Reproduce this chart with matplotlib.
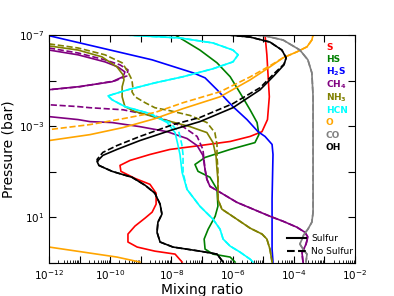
import numpy as np
import matplotlib
matplotlib.use("Agg")
import matplotlib.pyplot as plt
from matplotlib.lines import Line2D
from matplotlib.ticker import FixedLocator, FuncFormatter, NullFormatter, NullLocator

# all values are log10(mixing ratio) / log10(pressure in bar)
# S (sulfur run only)
s_x = [-4.94, -4.88, -4.80, -4.86, -5.04, -5.43, -6.08, -7.07, -8.05, -8.70, -9.35, -9.68,
       -9.65, -9.19, -8.70, -8.50, -8.50, -8.63, -8.86, -9.19, -9.42, -9.42, -9.12, -8.54,
       -7.88, -7.65]
s_p = [-7.0, -6.13, -4.29, -3.29, -2.76, -2.55, -2.33, -2.15, -1.98, -1.76, -1.50, -1.28,
       -1.02, -0.71, -0.45, -0.06, 0.42, 0.77, 1.03, 1.38, 1.73, 2.08, 2.30, 2.48, 2.61, 2.96]

# HS
hs_x = [-7.88, -7.07, -6.51, -6.08, -5.76, -5.43, -5.20, -5.14, -5.27, -6.08, -6.90, -7.23,
        -7.13, -6.74, -6.51, -6.48, -6.57, -6.80, -6.93, -6.90, -6.64, -6.08, -5.92]
hs_p = [-7.0, -6.34, -5.78, -5.17, -4.47, -3.72, -3.16, -2.63, -2.28, -1.98, -1.63, -1.32,
        -1.02, -0.76, -0.23, 0.51, 0.95, 1.52, 1.95, 2.39, 2.61, 2.74, 2.96]

# H2S
h2s_x = [-12.1, -8.63, -7.29, -6.90, -6.51, -5.99, -5.53, -5.17, -4.94, -4.71, -4.68,
         -4.71, -4.71, -4.68]
h2s_p = [-7.0, -5.91, -5.34, -5.12, -4.60, -3.86, -3.29, -2.76, -2.55, -2.20, -1.76,
         0.2, 2.39, 2.96]

# CH4
ch4_x = [-12.0, -11.05, -10.17, -9.75, -9.52, -9.58, -9.94, -11.05, -12.0, -13.0, -13.0,
         -12.0, -11.05, -10.66, -9.94, -9.03, -8.14, -7.49, -7.16, -6.97, -6.90, -6.84,
         -6.74, -6.41, -5.86, -5.10, -4.78, -4.35, -3.90, -3.64, -3.54, -3.60, -3.73, -3.70]
ch4_p = [-6.34, -6.13, -5.82, -5.60, -5.38, -5.17, -4.95, -4.73, -4.60, -4.4, -3.6,
         -3.42, -3.29, -3.20, -3.16, -2.98, -2.76, -2.46, -2.15, -1.72, -1.10, -0.67,
         -0.36, -0.10, 0.34, 0.77, 0.95, 1.17, 1.43, 1.65, 1.86, 2.17, 2.56, 2.96]
ch4_ns_x = [-12.0, -11.05, -10.17, -9.68, -9.42, -9.45, -9.84, -10.99, -12.0, -13.0, -13.0,
            -12.0, -11.05, -10.66, -9.58, -8.47, -7.62, -7.16, -6.97, -6.90, -6.84, -6.74,
            -6.41, -5.86, -5.10, -4.78, -4.35, -3.90, -3.64, -3.54, -3.60, -3.73, -3.70]
ch4_ns_p = [-6.43, -6.21, -5.91, -5.69, -5.47, -5.21, -4.99, -4.73, -4.60, -4.4, -4.1,
            -3.94, -3.86, -3.81, -3.72, -3.42, -2.98, -2.55, -1.98, -1.10, -0.67, -0.36,
            -0.10, 0.34, 0.77, 0.95, 1.17, 1.43, 1.65, 1.86, 2.17, 2.56, 2.96]

# NH3
nh3_x = [-12.0, -11.05, -10.27, -9.78, -9.58, -9.55, -9.61, -9.61, -9.52, -9.19, -8.93,
         -8.27, -7.39, -6.84, -6.64, -6.54, -6.51, -6.48, -6.48, -6.35, -5.86, -5.43,
         -5.04, -4.88, -4.78, -4.71]
nh3_p = [-6.52, -6.34, -6.04, -5.60, -5.25, -5.03, -4.73, -4.29, -3.86, -3.64, -3.55,
         -3.29, -2.98, -2.72, -2.28, -1.67, -1.10, -0.67, 0.21, 0.64, 1.08, 1.47,
         1.73, 1.95, 2.39, 2.96]
nh3_ns_x = [-12.0, -11.05, -10.17, -9.61, -9.42, -9.29, -9.26, -9.29, -9.19, -8.86, -8.54,
            -8.05, -7.39, -6.84, -6.58, -6.51, -6.51, -6.48, -6.48, -6.48, -6.35, -5.86,
            -5.43, -5.04, -4.88, -4.78, -4.71]
nh3_ns_p = [-6.61, -6.43, -6.13, -5.78, -5.38, -5.03, -4.69, -4.51, -4.29, -4.03, -3.81,
            -3.68, -3.47, -3.16, -2.72, -2.20, -1.67, -1.10, -0.67, 0.21, 0.64, 1.08,
            1.47, 1.73, 1.95, 2.39, 2.96]

# HCN
hcn_x = [-9.52, -7.72, -6.64, -5.99, -5.82, -5.99, -6.64, -7.62, -8.54, -9.42, -10.07,
         -9.94, -9.52, -8.70, -8.14, -7.88, -7.79, -7.72, -7.65, -7.49, -7.07, -6.64,
         -6.41, -6.31, -6.08, -5.76, -5.43, -5.33]
hcn_p = [-7.0, -6.87, -6.65, -6.34, -6.13, -5.82, -5.52, -5.17, -4.90, -4.60, -4.33,
         -4.16, -3.86, -3.55, -3.16, -2.72, -2.20, -1.76, -0.97, -0.23, 0.51, 1.08,
         1.52, 1.95, 2.26, 2.52, 2.83, 2.96]
hcn_ns_x = [-9.52, -7.72, -6.64, -5.99, -5.82, -5.99, -6.64, -7.62, -8.54, -9.42, -10.07,
            -9.94, -9.52, -8.70, -8.05, -7.75, -7.66, -7.62, -7.62, -7.49, -7.07, -6.64,
            -6.41, -6.31, -6.08, -5.76, -5.43, -5.33]

# O
o_x = [-14.0, -12.0, -10.66, -9.58, -8.54, -7.62, -6.41, -5.43, -4.78, -4.35, -3.90,
       -3.57, -3.41, -3.37]
o_p = [-2.25, -2.37, -2.63, -2.94, -3.33, -3.77, -4.29, -5.03, -5.60, -6.0, -6.26,
       -6.48, -6.78, -7.0]
o_ns_x = [-14.0, -12.0, -10.66, -9.58, -8.54, -7.62, -6.41, -5.43, -4.78, -4.35, -3.90,
          -3.57, -3.41, -3.37]
o_ns_p = [-2.7, -2.85, -3.07, -3.33, -3.60, -4.03, -4.51, -5.16, -5.65, -6.0, -6.26,
          -6.48, -6.78, -7.0]
o_deep_x = [-14.0, -12.0, -10.89, -9.78, -9.03]
o_deep_p = [2.1, 2.30, 2.52, 2.74, 2.96]

# CO
co_x = [-5.27, -4.94, -4.35, -3.80, -3.54, -3.41, -3.37, -3.37, -3.37, -3.41, -3.54,
        -3.67, -3.80, -3.70, -3.57, -3.60]
co_p = [-7.0, -6.96, -6.78, -6.34, -5.91, -5.34, -4.29, -1.98, 0.77, 1.21, 1.52,
        1.75, 2.17, 2.39, 2.61, 2.96]

# OH
oh_x = [-6.15, -5.43, -4.78, -4.39, -4.25, -4.32, -4.65, -5.10, -5.99, -7.07, -7.95,
        -9.03, -9.78, -10.24, -10.43, -10.37, -9.94, -9.29, -8.86, -8.54, -8.37, -8.31,
        -8.44, -8.47, -8.37, -7.95, -7.07, -6.51, -6.31]
oh_p = [-7.0, -6.91, -6.69, -6.34, -6.0, -5.69, -5.21, -4.60, -3.81, -3.20, -2.85,
        -2.37, -1.98, -1.72, -1.45, -1.28, -1.02, -0.76, -0.41, -0.06, 0.42, 0.86,
        1.21, 1.65, 2.08, 2.30, 2.48, 2.61, 2.96]
oh_ns_p = [-7.0, -6.91, -6.69, -6.34, -6.0, -5.72, -5.30, -4.69, -3.99, -3.38, -3.07,
           -2.55, -2.15, -1.85, -1.54, -1.28, -1.02, -0.76, -0.41, -0.06, 0.42, 0.86,
           1.21, 1.65, 2.08, 2.30, 2.48, 2.61, 2.96]

names = ['S', 'HS', r'H$_{\mathbf{2}}$S', r'CH$_{\mathbf{4}}$', r'NH$_{\mathbf{3}}$',
         'HCN', 'O', 'CO', 'OH']
colors = ['red', 'green', 'blue', 'purple', 'olive', 'cyan', 'orange', 'gray', 'black']


def curve(ax, lx, lp, color, ls='-'):
    ax.plot(10.0 ** np.array(lx), 10.0 ** np.array(lp), color=color, ls=ls, lw=1.2)


fig = plt.figure(figsize=(3.94, 2.96), dpi=100)
ax = fig.add_axes([0.1244, 0.1115, 0.7766, 0.7703])

curve(ax, s_x, s_p, 'red')
curve(ax, hs_x, hs_p, 'green')
curve(ax, h2s_x, h2s_p, 'blue')
curve(ax, ch4_x, ch4_p, 'purple')
curve(ax, ch4_ns_x, ch4_ns_p, 'purple', '--')
curve(ax, nh3_x, nh3_p, 'olive')
curve(ax, nh3_ns_x, nh3_ns_p, 'olive', '--')
curve(ax, hcn_x, hcn_p, 'cyan')
curve(ax, hcn_ns_x, hcn_p, 'cyan', '--')
curve(ax, o_x, o_p, 'orange')
curve(ax, o_ns_x, o_ns_p, 'orange', '--')
curve(ax, o_deep_x, o_deep_p, 'orange')
curve(ax, co_x, co_p, 'gray')
curve(ax, co_x, co_p, 'gray', '--')
curve(ax, oh_x, oh_p, 'black')
curve(ax, oh_x, oh_ns_p, 'black', '--')

ax.set_xscale('log')
ax.set_yscale('log')
ax.set_xlim(1e-12, 1e-2)
ax.set_ylim(1e3, 1e-7)

ax.xaxis.set_major_locator(FixedLocator(10.0 ** np.arange(-12, -1)))
ax.xaxis.set_major_formatter(FuncFormatter(
    lambda v, pos: r'$10^{%d}$' % round(np.log10(v)) if round(np.log10(v)) % 2 == 0 else ''))
ax.xaxis.set_minor_locator(FixedLocator(
    [m * 10.0 ** e for e in range(-12, -2) for m in range(2, 10)]))
ax.xaxis.set_minor_formatter(NullFormatter())
ax.yaxis.set_major_locator(FixedLocator(10.0 ** np.arange(-7, 4, 2)))
ax.yaxis.set_major_formatter(FuncFormatter(
    lambda v, pos: r'$10^{%d}$' % round(np.log10(v)) if round(np.log10(v)) in (-7, -3, 1) else ''))
ax.yaxis.set_minor_locator(NullLocator())

ax.tick_params(which='both', direction='in', labelsize=7.5, top=True, right=True)
ax.tick_params(which='major', length=5, width=0.8)
ax.tick_params(which='minor', length=2.5, width=0.6, top=False)

ax.set_xlabel('Mixing ratio', fontsize=10, labelpad=1)
ax.set_ylabel('Pressure (bar)', fontsize=10, labelpad=2)

for i, (name, c) in enumerate(zip(names, colors)):
    ax.text(0.905, 0.936 - i * 0.0553, name, color=c, fontsize=6.5, fontweight='bold',
            transform=ax.transAxes, va='baseline', ha='left')

handles = [Line2D([], [], color='black', lw=1.5, ls='-'),
           Line2D([], [], color='black', lw=1.5, ls='--')]
ax.legend(handles, ['Sulfur', 'No Sulfur'], loc='lower right', bbox_to_anchor=(1.005, 0.013),
          frameon=False, fontsize=6.5, handlelength=2.2, handletextpad=0.5,
          labelspacing=0.5, borderpad=0.4, borderaxespad=0)

fig.savefig('out.png', dpi=100)
